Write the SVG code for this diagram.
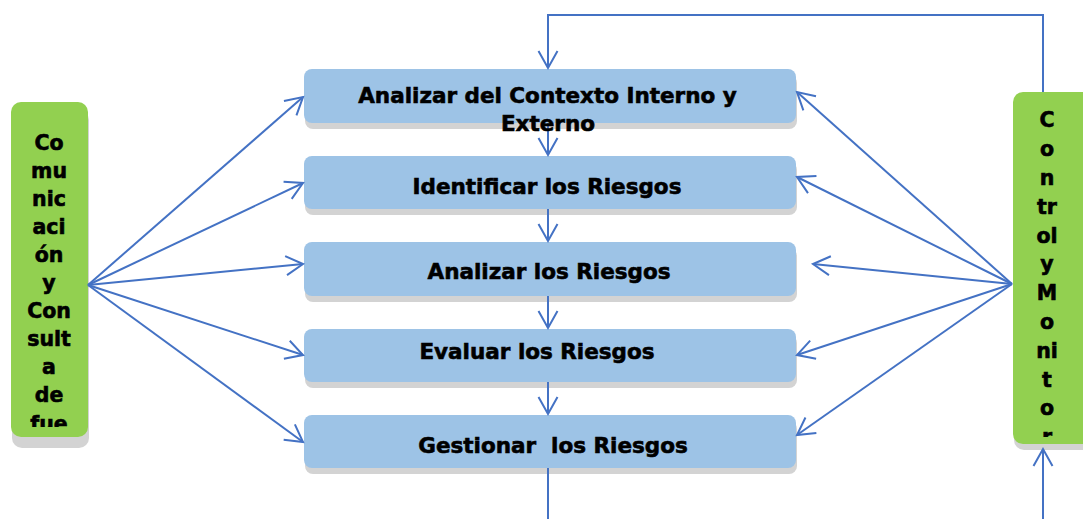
<svg xmlns="http://www.w3.org/2000/svg" width="1083" height="519" viewBox="0 0 1083 519">
<style>
.box{fill:#9DC3E6;}
.shadow{fill:#D3D3D3;}
.green{fill:#92D050;}
.t{font-family:"DejaVu Sans",Verdana,sans-serif;font-weight:bold;font-size:21.5px;fill:#000;stroke:#000;stroke-width:0.6;text-anchor:middle;}
.g{font-family:"DejaVu Sans",Verdana,sans-serif;font-weight:bold;font-size:20.5px;fill:#000;stroke:#000;stroke-width:0.6;text-anchor:middle;}
.c{fill:none;stroke:#4472C4;stroke-width:2;}
</style>
<defs>
<marker id="arr" viewBox="-20 -12 24 24" refX="0" refY="0" markerWidth="24" markerHeight="24" markerUnits="userSpaceOnUse" orient="auto">
<path d="M-17,-9.5 L0,0 L-17,9.5" fill="none" stroke="#4472C4" stroke-width="2"/>
</marker>
<clipPath id="clipL"><rect x="11" y="102" width="77" height="325"/></clipPath>
<clipPath id="clipR"><rect x="1013" y="92" width="80" height="345"/></clipPath>
</defs>
<rect width="1083" height="519" fill="#fff"/>

<g id="comunicacion">
<rect class="shadow" x="12" y="110" width="77" height="338" rx="10"/>
<rect class="green" x="11" y="102" width="77" height="335" rx="10"/>
<g clip-path="url(#clipL)">
<text class="g" x="49" y="150">Co</text>
<text class="g" x="49" y="178">mu</text>
<text class="g" x="49" y="206">nic</text>
<text class="g" x="49" y="234">aci</text>
<text class="g" x="49" y="262">ón</text>
<text class="g" x="49" y="290">y</text>
<text class="g" x="49" y="318">Con</text>
<text class="g" x="49" y="346">sult</text>
<text class="g" x="49" y="374">a</text>
<text class="g" x="49" y="402">de</text>
<text class="g" x="49" y="431">fue</text>
</g>
</g>

<g id="control">
<rect class="shadow" x="1014" y="98" width="80" height="352" rx="10"/>
<rect class="green" x="1013" y="92" width="80" height="352" rx="10"/>
<g clip-path="url(#clipR)">
<text class="g" x="1047" y="127">C</text>
<text class="g" x="1047" y="156">o</text>
<text class="g" x="1047" y="185">n</text>
<text class="g" x="1047" y="214">tr</text>
<text class="g" x="1047" y="243">ol</text>
<text class="g" x="1047" y="271">y</text>
<text class="g" x="1047" y="300">M</text>
<text class="g" x="1047" y="329">o</text>
<text class="g" x="1047" y="358">ni</text>
<text class="g" x="1047" y="387">t</text>
<text class="g" x="1047" y="415">o</text>
<text class="g" x="1047" y="444">r</text>
</g>
</g>

<g id="box1">
<rect class="shadow" x="305" y="75" width="492" height="54" rx="8"/>
<rect class="box" x="304" y="69" width="492" height="54" rx="8"/>
</g>
<g id="box2">
<rect class="shadow" x="305" y="162" width="492" height="53" rx="8"/>
<rect class="box" x="304" y="156" width="492" height="53" rx="8"/>
<text class="t" x="547" y="194">Identificar los Riesgos</text>
</g>
<g id="box3">
<rect class="shadow" x="305" y="248" width="492" height="54" rx="8"/>
<rect class="box" x="304" y="242" width="492" height="54" rx="8"/>
<text class="t" x="549" y="279">Analizar los Riesgos</text>
</g>
<g id="box4">
<rect class="shadow" x="305" y="335" width="492" height="53" rx="8"/>
<rect class="box" x="304" y="329" width="492" height="53" rx="8"/>
<text class="t" x="537" y="359">Evaluar los Riesgos</text>
</g>
<g id="box5">
<rect class="shadow" x="305" y="421" width="492" height="53" rx="8"/>
<rect class="box" x="304" y="415" width="492" height="53" rx="8"/>
<text class="t" x="553" y="453" xml:space="preserve">Gestionar  los Riesgos</text>
</g>

<g id="connectors">
<path class="c" d="M1043,92 V15 H548 V68" marker-end="url(#arr)"/>
<path class="c" d="M548,123 V155" marker-end="url(#arr)"/>
<path class="c" d="M548,209 V241" marker-end="url(#arr)"/>
<path class="c" d="M548,296 V328" marker-end="url(#arr)"/>
<path class="c" d="M548,382 V414" marker-end="url(#arr)"/>
<path class="c" d="M548,468 V519"/>
<path class="c" d="M1043,519 V449" marker-end="url(#arr)"/>
<path class="c" d="M88,285 L303,97" marker-end="url(#arr)"/>
<path class="c" d="M88,285 L303,183" marker-end="url(#arr)"/>
<path class="c" d="M88,285 L303,264" marker-end="url(#arr)"/>
<path class="c" d="M88,285 L303,355" marker-end="url(#arr)"/>
<path class="c" d="M88,285 L303,442" marker-end="url(#arr)"/>
<path class="c" d="M1012,284 L797,92" marker-end="url(#arr)"/>
<path class="c" d="M1012,284 L797,177" marker-end="url(#arr)"/>
<path class="c" d="M1012,284 L813,264" marker-end="url(#arr)"/>
<path class="c" d="M1012,284 L797,355" marker-end="url(#arr)"/>
<path class="c" d="M1012,284 L797,435" marker-end="url(#arr)"/>
</g>

<g id="box1-text">
<text class="t" x="547.5" y="103">Analizar del Contexto Interno y</text>
<text class="t" x="548" y="131">Externo</text>
</g>
</svg>
